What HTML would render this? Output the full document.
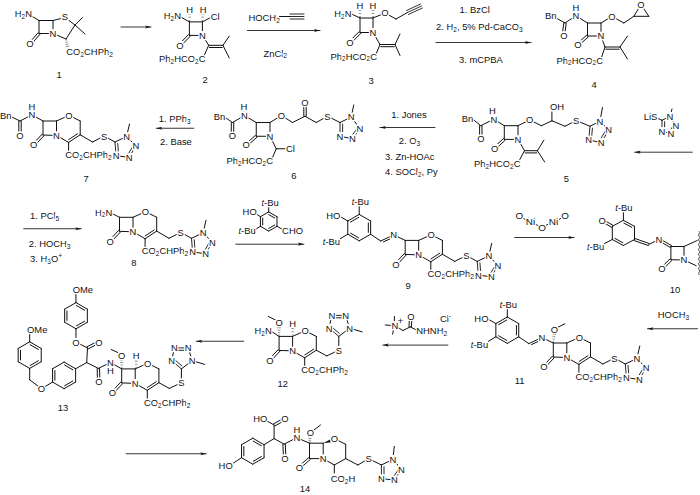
<!DOCTYPE html>
<html><head><meta charset="utf-8"><style>
html,body{margin:0;padding:0;background:#fff;width:700px;height:495px;overflow:hidden}
svg{display:block}
text{font-family:"Liberation Sans",sans-serif;font-size:9.9px;fill:#111}
text.a,text.t{stroke:#fff;stroke-width:2.6px;paint-order:stroke fill;stroke-linejoin:round}
line,path{stroke:#111;stroke-linecap:round}
</style></head><body>
<svg width="700" height="495" viewBox="0 0 700 495">
<rect width="700" height="495" fill="#fff"/>
<g>
<line x1="31.50" y1="16.00" x2="39.00" y2="20.50" stroke-width="1.0"/>
<line x1="39.00" y1="20.50" x2="53.00" y2="20.50" stroke-width="1.0"/>
<line x1="53.00" y1="20.50" x2="53.00" y2="33.50" stroke-width="1.0"/>
<line x1="53.00" y1="33.50" x2="39.00" y2="33.50" stroke-width="1.0"/>
<line x1="39.00" y1="33.50" x2="39.00" y2="20.50" stroke-width="1.0"/>
<line x1="38.09" y1="32.72" x2="29.09" y2="43.22" stroke-width="1.0"/>
<line x1="39.91" y1="34.28" x2="30.91" y2="44.78" stroke-width="1.0"/>
<line x1="53.00" y1="20.50" x2="65.00" y2="17.50" stroke-width="1.0"/>
<line x1="65.00" y1="17.50" x2="75.00" y2="25.00" stroke-width="1.0"/>
<line x1="75.00" y1="25.00" x2="82.50" y2="17.50" stroke-width="1.0"/>
<line x1="75.00" y1="25.00" x2="85.00" y2="34.00" stroke-width="1.0"/>
<line x1="75.00" y1="25.00" x2="66.00" y2="39.00" stroke-width="1.0"/>
<line x1="66.00" y1="39.00" x2="53.00" y2="33.50" stroke-width="1.0"/>
<line x1="66.64" y1="39.98" x2="65.74" y2="40.14" stroke-width="0.6" style="stroke:#444"/>
<line x1="67.32" y1="42.05" x2="65.81" y2="42.32" stroke-width="0.6" style="stroke:#444"/>
<line x1="68.00" y1="44.12" x2="65.87" y2="44.50" stroke-width="0.6" style="stroke:#444"/>
<line x1="68.69" y1="46.20" x2="65.94" y2="46.68" stroke-width="0.6" style="stroke:#444"/>
<line x1="121.00" y1="27.00" x2="151.00" y2="27.00" stroke-width="0.85"/>
<polygon points="151.00,27.00 145.00,25.40 146.50,27.00 145.00,28.60" fill="#111" stroke="none"/>
<line x1="180.00" y1="16.50" x2="189.40" y2="21.90" stroke-width="1.0"/>
<line x1="189.40" y1="21.90" x2="202.40" y2="21.90" stroke-width="1.0"/>
<line x1="202.40" y1="21.90" x2="202.40" y2="35.40" stroke-width="1.0"/>
<line x1="202.40" y1="35.40" x2="189.40" y2="35.40" stroke-width="1.0"/>
<line x1="189.40" y1="35.40" x2="189.40" y2="21.90" stroke-width="1.0"/>
<line x1="188.95" y1="20.32" x2="189.92" y2="20.34" stroke-width="0.6" style="stroke:#444"/>
<line x1="188.65" y1="17.18" x2="190.35" y2="17.22" stroke-width="0.6" style="stroke:#444"/>
<line x1="188.35" y1="14.04" x2="190.78" y2="14.09" stroke-width="0.6" style="stroke:#444"/>
<line x1="202.02" y1="20.30" x2="202.98" y2="20.36" stroke-width="0.6" style="stroke:#444"/>
<line x1="201.85" y1="17.15" x2="203.55" y2="17.25" stroke-width="0.6" style="stroke:#444"/>
<line x1="201.69" y1="13.99" x2="204.11" y2="14.14" stroke-width="0.6" style="stroke:#444"/>
<line x1="202.40" y1="21.90" x2="211.00" y2="17.30" stroke-width="1.0"/>
<line x1="188.54" y1="34.56" x2="178.94" y2="44.46" stroke-width="1.0"/>
<line x1="190.26" y1="36.24" x2="180.66" y2="46.14" stroke-width="1.0"/>
<line x1="202.40" y1="35.40" x2="208.70" y2="45.30" stroke-width="1.0"/>
<line x1="208.70" y1="45.30" x2="222.90" y2="45.30" stroke-width="1.0"/>
<line x1="209.41" y1="47.50" x2="222.19" y2="47.50" stroke-width="1.0"/>
<line x1="222.90" y1="45.30" x2="229.30" y2="36.10" stroke-width="1.0"/>
<line x1="222.90" y1="45.30" x2="229.30" y2="58.00" stroke-width="1.0"/>
<line x1="208.70" y1="45.30" x2="204.00" y2="56.00" stroke-width="1.0"/>
<line x1="247.50" y1="30.50" x2="320.00" y2="30.50" stroke-width="0.85"/>
<polygon points="320.00,30.50 314.00,28.90 315.50,30.50 314.00,32.10" fill="#111" stroke="none"/>
<line x1="279.50" y1="16.50" x2="290.00" y2="16.50" stroke-width="1.0"/>
<line x1="290.00" y1="19.00" x2="304.00" y2="19.00" stroke-width="0.9"/>
<line x1="290.00" y1="14.00" x2="304.00" y2="14.00" stroke-width="0.9"/>
<line x1="290.00" y1="16.50" x2="304.00" y2="16.50" stroke-width="0.9"/>
<line x1="351.50" y1="14.00" x2="360.00" y2="18.00" stroke-width="1.0"/>
<line x1="360.00" y1="18.00" x2="373.00" y2="18.00" stroke-width="1.0"/>
<line x1="373.00" y1="18.00" x2="373.00" y2="32.50" stroke-width="1.0"/>
<line x1="373.00" y1="32.50" x2="360.00" y2="32.50" stroke-width="1.0"/>
<line x1="360.00" y1="32.50" x2="360.00" y2="18.00" stroke-width="1.0"/>
<line x1="359.52" y1="16.50" x2="360.48" y2="16.50" stroke-width="0.6" style="stroke:#444"/>
<line x1="359.15" y1="13.50" x2="360.85" y2="13.50" stroke-width="0.6" style="stroke:#444"/>
<line x1="358.78" y1="10.50" x2="361.22" y2="10.50" stroke-width="0.6" style="stroke:#444"/>
<line x1="372.52" y1="16.50" x2="373.48" y2="16.50" stroke-width="0.6" style="stroke:#444"/>
<line x1="372.15" y1="13.50" x2="373.85" y2="13.50" stroke-width="0.6" style="stroke:#444"/>
<line x1="371.78" y1="10.50" x2="374.22" y2="10.50" stroke-width="0.6" style="stroke:#444"/>
<line x1="373.00" y1="18.00" x2="385.00" y2="13.00" stroke-width="1.0"/>
<line x1="385.00" y1="13.00" x2="396.00" y2="19.00" stroke-width="1.0"/>
<line x1="396.00" y1="19.00" x2="407.50" y2="12.50" stroke-width="1.0"/>
<line x1="408.43" y1="14.50" x2="422.43" y2="8.00" stroke-width="0.85"/>
<line x1="406.57" y1="10.50" x2="420.57" y2="4.00" stroke-width="0.85"/>
<line x1="407.50" y1="12.50" x2="421.50" y2="6.00" stroke-width="0.85"/>
<line x1="359.15" y1="31.65" x2="349.15" y2="41.65" stroke-width="1.0"/>
<line x1="360.85" y1="33.35" x2="350.85" y2="43.35" stroke-width="1.0"/>
<line x1="373.00" y1="32.50" x2="380.00" y2="44.50" stroke-width="1.0"/>
<line x1="380.00" y1="44.50" x2="395.00" y2="44.50" stroke-width="1.0"/>
<line x1="380.75" y1="46.70" x2="394.25" y2="46.70" stroke-width="1.0"/>
<line x1="395.00" y1="44.50" x2="400.00" y2="34.00" stroke-width="1.0"/>
<line x1="395.00" y1="44.50" x2="400.00" y2="55.50" stroke-width="1.0"/>
<line x1="380.00" y1="44.50" x2="375.50" y2="55.50" stroke-width="1.0"/>
<line x1="436.00" y1="42.50" x2="531.00" y2="42.50" stroke-width="0.85"/>
<polygon points="531.00,42.50 525.00,40.90 526.50,42.50 525.00,44.10" fill="#111" stroke="none"/>
<line x1="557.00" y1="18.50" x2="565.00" y2="23.00" stroke-width="1.0"/>
<line x1="565.00" y1="23.00" x2="576.00" y2="15.80" stroke-width="1.0"/>
<line x1="563.81" y1="22.84" x2="562.61" y2="31.84" stroke-width="1.0"/>
<line x1="566.19" y1="23.16" x2="564.99" y2="32.16" stroke-width="1.0"/>
<line x1="576.00" y1="15.80" x2="587.50" y2="23.00" stroke-width="1.0"/>
<line x1="587.50" y1="23.00" x2="601.00" y2="23.00" stroke-width="1.0"/>
<line x1="601.00" y1="23.00" x2="601.00" y2="36.00" stroke-width="1.0"/>
<line x1="601.00" y1="36.00" x2="587.50" y2="36.00" stroke-width="1.0"/>
<line x1="587.50" y1="36.00" x2="587.50" y2="23.00" stroke-width="1.0"/>
<line x1="586.70" y1="35.11" x2="577.20" y2="43.61" stroke-width="1.0"/>
<line x1="588.30" y1="36.89" x2="578.80" y2="45.39" stroke-width="1.0"/>
<line x1="601.00" y1="23.00" x2="612.00" y2="16.30" stroke-width="1.0"/>
<line x1="612.00" y1="16.30" x2="623.80" y2="23.00" stroke-width="1.0"/>
<line x1="623.80" y1="23.00" x2="633.80" y2="16.30" stroke-width="1.0"/>
<line x1="633.80" y1="16.30" x2="648.80" y2="16.30" stroke-width="1.0"/>
<line x1="633.80" y1="16.30" x2="641.00" y2="4.50" stroke-width="1.0"/>
<line x1="648.80" y1="16.30" x2="641.00" y2="4.50" stroke-width="1.0"/>
<line x1="601.00" y1="36.00" x2="605.00" y2="47.00" stroke-width="1.0"/>
<line x1="605.00" y1="47.00" x2="620.00" y2="47.00" stroke-width="1.0"/>
<line x1="605.75" y1="49.20" x2="619.25" y2="49.20" stroke-width="1.0"/>
<line x1="620.00" y1="47.00" x2="627.50" y2="36.00" stroke-width="1.0"/>
<line x1="620.00" y1="47.00" x2="627.50" y2="59.00" stroke-width="1.0"/>
<line x1="605.00" y1="47.00" x2="601.00" y2="59.00" stroke-width="1.0"/>
<line x1="11.80" y1="117.00" x2="20.00" y2="121.00" stroke-width="1.0"/>
<line x1="20.00" y1="121.00" x2="32.00" y2="114.80" stroke-width="1.0"/>
<line x1="18.80" y1="121.00" x2="18.80" y2="133.00" stroke-width="1.0"/>
<line x1="21.20" y1="121.00" x2="21.20" y2="133.00" stroke-width="1.0"/>
<line x1="32.00" y1="114.80" x2="43.00" y2="121.00" stroke-width="1.0"/>
<line x1="43.00" y1="121.00" x2="56.50" y2="121.00" stroke-width="1.0"/>
<line x1="56.50" y1="121.00" x2="56.50" y2="135.50" stroke-width="1.0"/>
<line x1="56.50" y1="135.50" x2="43.00" y2="135.00" stroke-width="1.0"/>
<line x1="43.00" y1="135.00" x2="43.00" y2="121.00" stroke-width="1.0"/>
<line x1="42.13" y1="134.18" x2="34.33" y2="142.48" stroke-width="1.0"/>
<line x1="43.87" y1="135.82" x2="36.07" y2="144.12" stroke-width="1.0"/>
<line x1="56.50" y1="121.00" x2="69.00" y2="115.40" stroke-width="1.0"/>
<line x1="69.00" y1="115.40" x2="80.20" y2="121.00" stroke-width="1.0"/>
<line x1="80.20" y1="121.00" x2="80.20" y2="134.80" stroke-width="1.0"/>
<line x1="80.20" y1="134.80" x2="68.60" y2="142.40" stroke-width="1.0"/>
<line x1="77.55" y1="133.79" x2="68.73" y2="139.56" stroke-width="1.0"/>
<line x1="68.60" y1="142.40" x2="56.50" y2="135.50" stroke-width="1.0"/>
<line x1="68.60" y1="142.40" x2="68.60" y2="150.50" stroke-width="1.0"/>
<line x1="80.20" y1="134.80" x2="92.50" y2="142.00" stroke-width="1.0"/>
<line x1="92.50" y1="142.00" x2="104.20" y2="136.10" stroke-width="1.0"/>
<line x1="104.20" y1="136.10" x2="115.00" y2="142.00" stroke-width="1.0"/>
<line x1="115.00" y1="142.00" x2="126.60" y2="136.50" stroke-width="1.0"/>
<line x1="126.60" y1="136.50" x2="135.80" y2="146.00" stroke-width="1.0"/>
<line x1="129.10" y1="157.40" x2="116.10" y2="155.70" stroke-width="1.0"/>
<line x1="115.00" y1="142.00" x2="116.10" y2="155.70" stroke-width="0.9"/>
<line x1="117.72" y1="143.44" x2="118.56" y2="153.85" stroke-width="0.9"/>
<line x1="135.80" y1="146.00" x2="129.10" y2="157.40" stroke-width="0.9"/>
<line x1="132.73" y1="146.49" x2="128.04" y2="154.47" stroke-width="0.9"/>
<line x1="126.60" y1="136.50" x2="129.50" y2="124.00" stroke-width="1.0"/>
<line x1="193.75" y1="128.25" x2="156.25" y2="128.25" stroke-width="0.85"/>
<polygon points="156.25,128.25 162.25,126.65 160.75,128.25 162.25,129.85" fill="#111" stroke="none"/>
<line x1="225.25" y1="117.50" x2="232.50" y2="122.50" stroke-width="1.0"/>
<line x1="232.50" y1="122.50" x2="244.40" y2="115.60" stroke-width="1.0"/>
<line x1="231.30" y1="122.50" x2="231.30" y2="134.00" stroke-width="1.0"/>
<line x1="233.70" y1="122.50" x2="233.70" y2="134.00" stroke-width="1.0"/>
<line x1="244.40" y1="112.60" x2="243.90" y2="110.00" stroke-width="1.0"/>
<line x1="244.40" y1="115.60" x2="256.25" y2="122.50" stroke-width="1.0"/>
<line x1="256.25" y1="122.50" x2="270.00" y2="122.50" stroke-width="1.0"/>
<line x1="270.00" y1="122.50" x2="270.00" y2="136.25" stroke-width="1.0"/>
<line x1="270.00" y1="136.25" x2="256.25" y2="136.25" stroke-width="1.0"/>
<line x1="256.25" y1="136.25" x2="256.25" y2="122.50" stroke-width="1.0"/>
<line x1="255.46" y1="135.35" x2="245.46" y2="144.10" stroke-width="1.0"/>
<line x1="257.04" y1="137.15" x2="247.04" y2="145.90" stroke-width="1.0"/>
<line x1="270.00" y1="122.50" x2="281.50" y2="115.50" stroke-width="1.0"/>
<line x1="281.50" y1="115.50" x2="292.50" y2="122.50" stroke-width="1.0"/>
<line x1="292.50" y1="122.50" x2="305.00" y2="116.25" stroke-width="1.0"/>
<line x1="306.20" y1="116.25" x2="306.20" y2="105.00" stroke-width="1.0"/>
<line x1="303.80" y1="116.25" x2="303.80" y2="105.00" stroke-width="1.0"/>
<line x1="305.00" y1="116.25" x2="316.25" y2="122.50" stroke-width="1.0"/>
<line x1="316.25" y1="122.50" x2="327.50" y2="116.25" stroke-width="1.0"/>
<line x1="327.50" y1="116.25" x2="340.00" y2="122.50" stroke-width="1.0"/>
<line x1="340.00" y1="122.50" x2="351.25" y2="117.00" stroke-width="1.0"/>
<line x1="351.25" y1="117.00" x2="360.00" y2="128.75" stroke-width="1.0"/>
<line x1="352.50" y1="138.75" x2="340.00" y2="136.25" stroke-width="1.0"/>
<line x1="340.00" y1="122.50" x2="340.00" y2="136.25" stroke-width="0.9"/>
<line x1="342.60" y1="124.15" x2="342.60" y2="134.60" stroke-width="0.9"/>
<line x1="360.00" y1="128.75" x2="352.50" y2="138.75" stroke-width="0.9"/>
<line x1="356.95" y1="128.81" x2="351.70" y2="135.81" stroke-width="0.9"/>
<line x1="351.25" y1="117.00" x2="353.75" y2="105.00" stroke-width="1.0"/>
<line x1="270.00" y1="136.25" x2="276.25" y2="148.75" stroke-width="1.0"/>
<line x1="276.25" y1="148.75" x2="286.00" y2="148.75" stroke-width="1.0"/>
<line x1="276.25" y1="148.75" x2="271.50" y2="160.00" stroke-width="1.0"/>
<line x1="435.00" y1="127.50" x2="380.00" y2="127.50" stroke-width="0.85"/>
<polygon points="380.00,127.50 386.00,125.90 384.50,127.50 386.00,129.10" fill="#111" stroke="none"/>
<line x1="473.30" y1="119.60" x2="480.80" y2="125.70" stroke-width="1.0"/>
<line x1="480.80" y1="125.70" x2="493.80" y2="119.20" stroke-width="1.0"/>
<line x1="479.60" y1="125.70" x2="479.60" y2="136.90" stroke-width="1.0"/>
<line x1="482.00" y1="125.70" x2="482.00" y2="136.90" stroke-width="1.0"/>
<line x1="493.80" y1="116.20" x2="492.50" y2="113.50" stroke-width="1.0"/>
<line x1="493.80" y1="119.20" x2="504.30" y2="125.70" stroke-width="1.0"/>
<line x1="504.30" y1="125.70" x2="518.00" y2="125.70" stroke-width="1.0"/>
<line x1="518.00" y1="125.70" x2="518.00" y2="139.40" stroke-width="1.0"/>
<line x1="518.00" y1="139.40" x2="504.30" y2="139.40" stroke-width="1.0"/>
<line x1="504.30" y1="139.40" x2="504.30" y2="125.70" stroke-width="1.0"/>
<line x1="503.49" y1="138.52" x2="493.79" y2="147.42" stroke-width="1.0"/>
<line x1="505.11" y1="140.28" x2="495.41" y2="149.18" stroke-width="1.0"/>
<line x1="518.00" y1="125.70" x2="529.60" y2="120.00" stroke-width="1.0"/>
<line x1="529.60" y1="120.00" x2="541.40" y2="125.70" stroke-width="1.0"/>
<line x1="541.40" y1="125.70" x2="551.90" y2="120.80" stroke-width="1.0"/>
<line x1="551.90" y1="120.80" x2="565.00" y2="126.25" stroke-width="1.0"/>
<line x1="565.00" y1="126.25" x2="576.25" y2="120.50" stroke-width="1.0"/>
<line x1="551.90" y1="120.80" x2="551.90" y2="112.00" stroke-width="1.0"/>
<line x1="576.25" y1="120.50" x2="590.00" y2="126.25" stroke-width="1.0"/>
<line x1="590.00" y1="126.25" x2="600.00" y2="121.25" stroke-width="1.0"/>
<line x1="600.00" y1="121.25" x2="608.75" y2="130.00" stroke-width="1.0"/>
<line x1="601.25" y1="142.50" x2="588.75" y2="140.00" stroke-width="1.0"/>
<line x1="590.00" y1="126.25" x2="588.75" y2="140.00" stroke-width="0.9"/>
<line x1="592.44" y1="128.14" x2="591.49" y2="138.59" stroke-width="0.9"/>
<line x1="608.75" y1="130.00" x2="601.25" y2="142.50" stroke-width="0.9"/>
<line x1="605.57" y1="130.64" x2="600.32" y2="139.39" stroke-width="0.9"/>
<line x1="600.00" y1="121.25" x2="602.50" y2="107.50" stroke-width="1.0"/>
<line x1="518.00" y1="139.40" x2="524.50" y2="150.70" stroke-width="1.0"/>
<line x1="524.50" y1="150.70" x2="537.40" y2="150.70" stroke-width="1.0"/>
<line x1="525.14" y1="152.90" x2="536.75" y2="152.90" stroke-width="1.0"/>
<line x1="537.40" y1="150.70" x2="543.90" y2="140.20" stroke-width="1.0"/>
<line x1="537.40" y1="150.70" x2="544.70" y2="162.00" stroke-width="1.0"/>
<line x1="524.50" y1="150.70" x2="519.80" y2="159.50" stroke-width="1.0"/>
<line x1="657.00" y1="118.00" x2="662.00" y2="120.30" stroke-width="1.0"/>
<line x1="662.00" y1="120.30" x2="670.00" y2="116.30" stroke-width="1.0"/>
<line x1="670.00" y1="116.30" x2="676.00" y2="126.00" stroke-width="1.0"/>
<line x1="671.00" y1="133.40" x2="662.00" y2="131.40" stroke-width="1.0"/>
<line x1="662.00" y1="120.30" x2="662.00" y2="131.40" stroke-width="0.9"/>
<line x1="664.60" y1="121.63" x2="664.60" y2="130.07" stroke-width="0.9"/>
<line x1="676.00" y1="126.00" x2="671.00" y2="133.40" stroke-width="0.9"/>
<line x1="673.26" y1="125.77" x2="669.76" y2="130.95" stroke-width="0.9"/>
<line x1="670.00" y1="116.30" x2="672.00" y2="109.00" stroke-width="1.0"/>
<line x1="692.30" y1="152.20" x2="634.70" y2="152.20" stroke-width="0.85"/>
<polygon points="634.70,152.20 640.70,150.60 639.20,152.20 640.70,153.80" fill="#111" stroke="none"/>
<line x1="112.00" y1="213.50" x2="119.50" y2="217.30" stroke-width="1.0"/>
<line x1="119.50" y1="217.30" x2="133.00" y2="217.30" stroke-width="1.0"/>
<line x1="133.00" y1="217.30" x2="133.00" y2="231.80" stroke-width="1.0"/>
<line x1="133.00" y1="231.80" x2="119.50" y2="231.30" stroke-width="1.0"/>
<line x1="119.50" y1="231.30" x2="119.50" y2="217.30" stroke-width="1.0"/>
<line x1="118.63" y1="230.48" x2="110.83" y2="238.78" stroke-width="1.0"/>
<line x1="120.37" y1="232.12" x2="112.57" y2="240.42" stroke-width="1.0"/>
<line x1="133.00" y1="217.30" x2="145.50" y2="211.70" stroke-width="1.0"/>
<line x1="145.50" y1="211.70" x2="156.70" y2="217.30" stroke-width="1.0"/>
<line x1="156.70" y1="217.30" x2="156.70" y2="231.10" stroke-width="1.0"/>
<line x1="156.70" y1="231.10" x2="145.10" y2="238.70" stroke-width="1.0"/>
<line x1="154.05" y1="230.09" x2="145.23" y2="235.86" stroke-width="1.0"/>
<line x1="145.10" y1="238.70" x2="133.00" y2="231.80" stroke-width="1.0"/>
<line x1="145.10" y1="238.70" x2="145.10" y2="246.80" stroke-width="1.0"/>
<line x1="156.70" y1="231.10" x2="169.00" y2="238.30" stroke-width="1.0"/>
<line x1="169.00" y1="238.30" x2="180.70" y2="232.40" stroke-width="1.0"/>
<line x1="180.70" y1="232.40" x2="191.50" y2="238.30" stroke-width="1.0"/>
<line x1="191.50" y1="238.30" x2="203.10" y2="232.80" stroke-width="1.0"/>
<line x1="203.10" y1="232.80" x2="212.30" y2="242.30" stroke-width="1.0"/>
<line x1="205.60" y1="253.70" x2="192.60" y2="252.00" stroke-width="1.0"/>
<line x1="191.50" y1="238.30" x2="192.60" y2="252.00" stroke-width="0.9"/>
<line x1="194.22" y1="239.74" x2="195.06" y2="250.15" stroke-width="0.9"/>
<line x1="212.30" y1="242.30" x2="205.60" y2="253.70" stroke-width="0.9"/>
<line x1="209.23" y1="242.79" x2="204.54" y2="250.77" stroke-width="0.9"/>
<line x1="203.10" y1="232.80" x2="206.00" y2="220.30" stroke-width="1.0"/>
<line x1="23.75" y1="228.75" x2="81.25" y2="228.75" stroke-width="0.85"/>
<polygon points="81.25,228.75 75.25,227.15 76.75,228.75 75.25,230.35" fill="#111" stroke="none"/>
<line x1="268.70" y1="211.90" x2="277.01" y2="216.70" stroke-width="1.0"/>
<line x1="268.71" y1="214.56" x2="274.70" y2="218.02" stroke-width="1.0"/>
<line x1="277.01" y1="216.70" x2="277.01" y2="226.30" stroke-width="1.0"/>
<line x1="277.01" y1="226.30" x2="268.70" y2="231.10" stroke-width="1.0"/>
<line x1="274.70" y1="224.98" x2="268.71" y2="228.44" stroke-width="1.0"/>
<line x1="268.70" y1="231.10" x2="260.39" y2="226.30" stroke-width="1.0"/>
<line x1="260.39" y1="226.30" x2="260.39" y2="216.70" stroke-width="1.0"/>
<line x1="262.69" y1="224.96" x2="262.69" y2="218.04" stroke-width="1.0"/>
<line x1="260.39" y1="216.70" x2="268.70" y2="211.90" stroke-width="1.0"/>
<line x1="268.70" y1="211.90" x2="268.70" y2="206.40" stroke-width="1.0"/>
<line x1="260.39" y1="216.70" x2="255.80" y2="213.60" stroke-width="1.0"/>
<line x1="260.39" y1="226.30" x2="255.60" y2="229.30" stroke-width="1.0"/>
<line x1="277.01" y1="226.30" x2="282.30" y2="229.30" stroke-width="1.0"/>
<line x1="235.90" y1="244.20" x2="303.90" y2="244.20" stroke-width="0.85"/>
<polygon points="303.90,244.20 297.90,242.60 299.40,244.20 297.90,245.80" fill="#111" stroke="none"/>
<line x1="405.20" y1="240.40" x2="418.70" y2="240.40" stroke-width="1.0"/>
<line x1="418.70" y1="240.40" x2="418.70" y2="254.90" stroke-width="1.0"/>
<line x1="418.70" y1="254.90" x2="405.20" y2="254.40" stroke-width="1.0"/>
<line x1="405.20" y1="254.40" x2="405.20" y2="240.40" stroke-width="1.0"/>
<line x1="404.33" y1="253.58" x2="396.53" y2="261.88" stroke-width="1.0"/>
<line x1="406.07" y1="255.22" x2="398.27" y2="263.52" stroke-width="1.0"/>
<line x1="418.70" y1="240.40" x2="431.20" y2="234.80" stroke-width="1.0"/>
<line x1="431.20" y1="234.80" x2="442.40" y2="240.40" stroke-width="1.0"/>
<line x1="442.40" y1="240.40" x2="442.40" y2="254.20" stroke-width="1.0"/>
<line x1="442.40" y1="254.20" x2="430.80" y2="261.80" stroke-width="1.0"/>
<line x1="439.75" y1="253.19" x2="430.93" y2="258.96" stroke-width="1.0"/>
<line x1="430.80" y1="261.80" x2="418.70" y2="254.90" stroke-width="1.0"/>
<line x1="430.80" y1="261.80" x2="430.80" y2="269.90" stroke-width="1.0"/>
<line x1="442.40" y1="254.20" x2="454.70" y2="261.40" stroke-width="1.0"/>
<line x1="454.70" y1="261.40" x2="466.40" y2="255.50" stroke-width="1.0"/>
<line x1="466.40" y1="255.50" x2="477.20" y2="261.40" stroke-width="1.0"/>
<line x1="477.20" y1="261.40" x2="488.80" y2="255.90" stroke-width="1.0"/>
<line x1="488.80" y1="255.90" x2="498.00" y2="265.40" stroke-width="1.0"/>
<line x1="491.30" y1="276.80" x2="478.30" y2="275.10" stroke-width="1.0"/>
<line x1="477.20" y1="261.40" x2="478.30" y2="275.10" stroke-width="0.9"/>
<line x1="479.92" y1="262.84" x2="480.76" y2="273.25" stroke-width="0.9"/>
<line x1="498.00" y1="265.40" x2="491.30" y2="276.80" stroke-width="0.9"/>
<line x1="494.93" y1="265.89" x2="490.24" y2="273.87" stroke-width="0.9"/>
<line x1="488.80" y1="255.90" x2="491.70" y2="243.40" stroke-width="1.0"/>
<line x1="359.20" y1="214.40" x2="370.63" y2="221.00" stroke-width="1.0"/>
<line x1="370.63" y1="221.00" x2="370.63" y2="234.20" stroke-width="1.0"/>
<line x1="368.33" y1="222.85" x2="368.33" y2="232.35" stroke-width="1.0"/>
<line x1="370.63" y1="234.20" x2="359.20" y2="240.80" stroke-width="1.0"/>
<line x1="359.20" y1="240.80" x2="347.77" y2="234.20" stroke-width="1.0"/>
<line x1="358.75" y1="237.88" x2="350.52" y2="233.13" stroke-width="1.0"/>
<line x1="347.77" y1="234.20" x2="347.77" y2="221.00" stroke-width="1.0"/>
<line x1="347.77" y1="221.00" x2="359.20" y2="214.40" stroke-width="1.0"/>
<line x1="350.52" y1="222.07" x2="358.75" y2="217.32" stroke-width="1.0"/>
<line x1="359.20" y1="214.40" x2="359.20" y2="206.40" stroke-width="1.0"/>
<line x1="347.77" y1="221.00" x2="341.27" y2="217.20" stroke-width="1.0"/>
<line x1="347.77" y1="234.20" x2="340.27" y2="238.70" stroke-width="1.0"/>
<line x1="370.63" y1="234.20" x2="380.70" y2="241.00" stroke-width="1.0"/>
<line x1="380.70" y1="241.00" x2="393.70" y2="234.90" stroke-width="1.0"/>
<line x1="383.50" y1="241.90" x2="392.60" y2="237.63" stroke-width="1.0"/>
<line x1="393.70" y1="234.90" x2="405.20" y2="240.40" stroke-width="1.0"/>
<line x1="523.50" y1="218.50" x2="525.50" y2="219.50" stroke-width="1.0"/>
<line x1="536.00" y1="224.50" x2="538.20" y2="225.70" stroke-width="1.0"/>
<line x1="546.00" y1="225.50" x2="548.00" y2="224.20" stroke-width="1.0"/>
<line x1="559.00" y1="219.50" x2="561.00" y2="218.30" stroke-width="1.0"/>
<line x1="514.70" y1="237.50" x2="574.10" y2="237.50" stroke-width="0.85"/>
<polygon points="574.10,237.50 568.10,235.90 569.60,237.50 568.10,239.10" fill="#111" stroke="none"/>
<line x1="612.30" y1="226.30" x2="623.40" y2="220.30" stroke-width="1.0"/>
<line x1="623.40" y1="220.30" x2="634.50" y2="226.30" stroke-width="1.0"/>
<line x1="623.91" y1="223.08" x2="631.90" y2="227.40" stroke-width="1.0"/>
<line x1="634.50" y1="226.30" x2="634.50" y2="239.50" stroke-width="1.0"/>
<line x1="634.50" y1="239.50" x2="623.40" y2="245.50" stroke-width="1.0"/>
<line x1="623.40" y1="245.50" x2="612.30" y2="239.50" stroke-width="1.0"/>
<line x1="622.89" y1="242.72" x2="614.90" y2="238.40" stroke-width="1.0"/>
<line x1="612.30" y1="239.50" x2="612.30" y2="226.30" stroke-width="1.0"/>
<line x1="612.90" y1="225.26" x2="605.10" y2="220.76" stroke-width="1.0"/>
<line x1="611.70" y1="227.34" x2="603.90" y2="222.84" stroke-width="1.0"/>
<line x1="623.40" y1="220.30" x2="623.40" y2="212.00" stroke-width="1.0"/>
<line x1="612.30" y1="239.50" x2="604.50" y2="243.50" stroke-width="1.0"/>
<line x1="634.13" y1="240.54" x2="648.33" y2="245.54" stroke-width="1.0"/>
<line x1="634.87" y1="238.46" x2="649.07" y2="243.46" stroke-width="1.0"/>
<line x1="648.70" y1="244.50" x2="658.80" y2="239.50" stroke-width="1.0"/>
<line x1="658.25" y1="240.45" x2="670.35" y2="247.45" stroke-width="1.0"/>
<line x1="659.35" y1="238.55" x2="671.45" y2="245.55" stroke-width="1.0"/>
<line x1="670.90" y1="246.50" x2="684.00" y2="246.50" stroke-width="1.0"/>
<line x1="684.00" y1="246.50" x2="684.00" y2="260.00" stroke-width="1.0"/>
<line x1="684.00" y1="260.00" x2="670.90" y2="259.70" stroke-width="1.0"/>
<line x1="670.90" y1="259.70" x2="670.90" y2="246.50" stroke-width="1.0"/>
<line x1="670.06" y1="258.85" x2="662.66" y2="266.15" stroke-width="1.0"/>
<line x1="671.74" y1="260.55" x2="664.34" y2="267.85" stroke-width="1.0"/>
<line x1="684.00" y1="246.50" x2="697.20" y2="240.50" stroke-width="1.0"/>
<line x1="684.00" y1="260.00" x2="696.20" y2="265.70" stroke-width="1.0"/>
<path d="M699.2,231.5 q1.6,1.2 0,2.4 q-1.6,1.2 0,2.4 q1.6,1.2 0,2.4 q-1.6,1.2 0,2.4 q1.6,1.2 0,2.4 q-1.6,1.2 0,2.4 q1.6,1.2 0,2.4 q-1.6,1.2 0,2.4 q1.6,1.2 0,2.4 q-1.6,1.2 0,2.4 q1.6,1.2 0,2.4 q-1.6,1.2 0,2.4 q1.6,1.2 0,2.4 q-1.6,1.2 0,2.4 q1.6,1.2 0,2.4 q-1.6,1.2 0,2.4 q1.6,1.2 0,2.4 q-1.6,1.2 0,2.4" fill="none" stroke-width="0.8"/>
<line x1="553.30" y1="343.00" x2="566.80" y2="343.00" stroke-width="1.0"/>
<line x1="566.80" y1="343.00" x2="566.80" y2="357.50" stroke-width="1.0"/>
<line x1="566.80" y1="357.50" x2="553.30" y2="357.00" stroke-width="1.0"/>
<line x1="553.30" y1="357.00" x2="553.30" y2="343.00" stroke-width="1.0"/>
<line x1="552.43" y1="356.18" x2="544.63" y2="364.48" stroke-width="1.0"/>
<line x1="554.17" y1="357.82" x2="546.37" y2="366.12" stroke-width="1.0"/>
<line x1="566.80" y1="343.00" x2="579.30" y2="337.40" stroke-width="1.0"/>
<line x1="579.30" y1="337.40" x2="590.50" y2="343.00" stroke-width="1.0"/>
<line x1="590.50" y1="343.00" x2="590.50" y2="356.80" stroke-width="1.0"/>
<line x1="590.50" y1="356.80" x2="578.90" y2="364.40" stroke-width="1.0"/>
<line x1="587.85" y1="355.79" x2="579.03" y2="361.56" stroke-width="1.0"/>
<line x1="578.90" y1="364.40" x2="566.80" y2="357.50" stroke-width="1.0"/>
<line x1="578.90" y1="364.40" x2="578.90" y2="372.50" stroke-width="1.0"/>
<line x1="590.50" y1="356.80" x2="602.80" y2="364.00" stroke-width="1.0"/>
<line x1="602.80" y1="364.00" x2="614.50" y2="358.10" stroke-width="1.0"/>
<line x1="614.50" y1="358.10" x2="625.30" y2="364.00" stroke-width="1.0"/>
<line x1="625.30" y1="364.00" x2="636.90" y2="358.50" stroke-width="1.0"/>
<line x1="636.90" y1="358.50" x2="646.10" y2="368.00" stroke-width="1.0"/>
<line x1="639.40" y1="379.40" x2="626.40" y2="377.70" stroke-width="1.0"/>
<line x1="625.30" y1="364.00" x2="626.40" y2="377.70" stroke-width="0.9"/>
<line x1="628.02" y1="365.44" x2="628.86" y2="375.85" stroke-width="0.9"/>
<line x1="646.10" y1="368.00" x2="639.40" y2="379.40" stroke-width="0.9"/>
<line x1="643.03" y1="368.49" x2="638.34" y2="376.47" stroke-width="0.9"/>
<line x1="636.90" y1="358.50" x2="639.80" y2="346.00" stroke-width="1.0"/>
<line x1="507.30" y1="317.00" x2="518.73" y2="323.60" stroke-width="1.0"/>
<line x1="518.73" y1="323.60" x2="518.73" y2="336.80" stroke-width="1.0"/>
<line x1="516.43" y1="325.45" x2="516.43" y2="334.95" stroke-width="1.0"/>
<line x1="518.73" y1="336.80" x2="507.30" y2="343.40" stroke-width="1.0"/>
<line x1="507.30" y1="343.40" x2="495.87" y2="336.80" stroke-width="1.0"/>
<line x1="506.85" y1="340.48" x2="498.62" y2="335.73" stroke-width="1.0"/>
<line x1="495.87" y1="336.80" x2="495.87" y2="323.60" stroke-width="1.0"/>
<line x1="495.87" y1="323.60" x2="507.30" y2="317.00" stroke-width="1.0"/>
<line x1="498.62" y1="324.67" x2="506.85" y2="319.92" stroke-width="1.0"/>
<line x1="507.30" y1="317.00" x2="507.30" y2="309.00" stroke-width="1.0"/>
<line x1="495.87" y1="323.60" x2="489.37" y2="319.80" stroke-width="1.0"/>
<line x1="495.87" y1="336.80" x2="488.37" y2="341.30" stroke-width="1.0"/>
<line x1="518.73" y1="336.80" x2="528.80" y2="343.60" stroke-width="1.0"/>
<line x1="528.80" y1="343.60" x2="541.80" y2="337.50" stroke-width="1.0"/>
<line x1="531.60" y1="344.50" x2="540.70" y2="340.23" stroke-width="1.0"/>
<line x1="541.80" y1="337.50" x2="553.30" y2="343.00" stroke-width="1.0"/>
<line x1="552.98" y1="341.71" x2="553.87" y2="341.79" stroke-width="0.6" style="stroke:#444"/>
<line x1="552.93" y1="339.18" x2="554.42" y2="339.32" stroke-width="0.6" style="stroke:#444"/>
<line x1="552.88" y1="336.65" x2="554.97" y2="336.85" stroke-width="0.6" style="stroke:#444"/>
<line x1="552.83" y1="334.12" x2="555.52" y2="334.38" stroke-width="0.6" style="stroke:#444"/>
<line x1="557.50" y1="327.50" x2="564.80" y2="323.80" stroke-width="1.0"/>
<line x1="697.50" y1="328.75" x2="647.50" y2="328.75" stroke-width="0.85"/>
<polygon points="647.50,328.75 653.50,327.15 652.00,328.75 653.50,330.35" fill="#111" stroke="none"/>
<line x1="279.10" y1="336.40" x2="292.60" y2="336.40" stroke-width="1.0"/>
<line x1="292.60" y1="336.40" x2="292.60" y2="350.90" stroke-width="1.0"/>
<line x1="292.60" y1="350.90" x2="279.10" y2="350.40" stroke-width="1.0"/>
<line x1="279.10" y1="350.40" x2="279.10" y2="336.40" stroke-width="1.0"/>
<line x1="278.23" y1="349.58" x2="270.43" y2="357.88" stroke-width="1.0"/>
<line x1="279.97" y1="351.22" x2="272.17" y2="359.52" stroke-width="1.0"/>
<line x1="292.60" y1="336.40" x2="305.10" y2="330.80" stroke-width="1.0"/>
<line x1="305.10" y1="330.80" x2="316.30" y2="336.40" stroke-width="1.0"/>
<line x1="316.30" y1="336.40" x2="316.30" y2="350.20" stroke-width="1.0"/>
<line x1="316.30" y1="350.20" x2="304.70" y2="357.80" stroke-width="1.0"/>
<line x1="313.65" y1="349.19" x2="304.83" y2="354.96" stroke-width="1.0"/>
<line x1="304.70" y1="357.80" x2="292.60" y2="350.90" stroke-width="1.0"/>
<line x1="304.70" y1="357.80" x2="304.70" y2="365.90" stroke-width="1.0"/>
<line x1="316.30" y1="350.20" x2="326.70" y2="355.90" stroke-width="1.0"/>
<line x1="326.70" y1="355.90" x2="338.80" y2="350.20" stroke-width="1.0"/>
<line x1="338.80" y1="350.20" x2="338.80" y2="336.40" stroke-width="1.0"/>
<line x1="338.80" y1="336.40" x2="349.60" y2="328.10" stroke-width="1.0"/>
<line x1="349.60" y1="328.10" x2="345.60" y2="315.40" stroke-width="1.0"/>
<line x1="331.80" y1="315.40" x2="329.10" y2="328.10" stroke-width="1.0"/>
<line x1="338.80" y1="336.40" x2="329.10" y2="328.10" stroke-width="0.9"/>
<line x1="339.33" y1="333.43" x2="331.95" y2="327.12" stroke-width="0.9"/>
<line x1="331.80" y1="315.40" x2="345.60" y2="315.40" stroke-width="0.9"/>
<line x1="333.87" y1="317.80" x2="343.53" y2="317.80" stroke-width="0.9"/>
<line x1="349.60" y1="328.10" x2="362.10" y2="331.90" stroke-width="1.0"/>
<line x1="271.50" y1="331.50" x2="279.10" y2="336.40" stroke-width="1.0"/>
<line x1="278.65" y1="335.16" x2="279.55" y2="335.16" stroke-width="0.6" style="stroke:#444"/>
<line x1="278.35" y1="332.69" x2="279.85" y2="332.69" stroke-width="0.6" style="stroke:#444"/>
<line x1="278.05" y1="330.21" x2="280.15" y2="330.21" stroke-width="0.6" style="stroke:#444"/>
<line x1="277.75" y1="327.74" x2="280.45" y2="327.74" stroke-width="0.6" style="stroke:#444"/>
<line x1="275.50" y1="320.00" x2="268.20" y2="316.40" stroke-width="1.0"/>
<line x1="292.22" y1="334.83" x2="293.18" y2="334.83" stroke-width="0.6" style="stroke:#444"/>
<line x1="291.85" y1="331.70" x2="293.55" y2="331.70" stroke-width="0.6" style="stroke:#444"/>
<line x1="291.48" y1="328.57" x2="293.92" y2="328.57" stroke-width="0.6" style="stroke:#444"/>
<line x1="385.30" y1="325.00" x2="390.50" y2="325.40" stroke-width="1.0"/>
<line x1="394.40" y1="316.50" x2="394.40" y2="321.00" stroke-width="1.0"/>
<line x1="393.40" y1="330.00" x2="392.60" y2="334.10" stroke-width="1.0"/>
<line x1="395.00" y1="325.60" x2="402.90" y2="330.50" stroke-width="1.0"/>
<line x1="402.90" y1="330.50" x2="410.20" y2="326.90" stroke-width="1.0"/>
<line x1="411.40" y1="326.96" x2="411.80" y2="319.56" stroke-width="1.0"/>
<line x1="409.00" y1="326.84" x2="409.40" y2="319.44" stroke-width="1.0"/>
<line x1="410.20" y1="326.90" x2="416.50" y2="330.00" stroke-width="1.0"/>
<line x1="447.90" y1="345.10" x2="382.90" y2="345.10" stroke-width="0.85"/>
<polygon points="382.90,345.10 388.90,343.50 387.40,345.10 388.90,346.70" fill="#111" stroke="none"/>
<line x1="121.70" y1="368.90" x2="135.20" y2="368.90" stroke-width="1.0"/>
<line x1="135.20" y1="368.90" x2="135.20" y2="383.40" stroke-width="1.0"/>
<line x1="135.20" y1="383.40" x2="121.70" y2="382.90" stroke-width="1.0"/>
<line x1="121.70" y1="382.90" x2="121.70" y2="368.90" stroke-width="1.0"/>
<line x1="120.83" y1="382.08" x2="113.03" y2="390.38" stroke-width="1.0"/>
<line x1="122.57" y1="383.72" x2="114.77" y2="392.02" stroke-width="1.0"/>
<line x1="135.20" y1="368.90" x2="147.70" y2="363.30" stroke-width="1.0"/>
<line x1="147.70" y1="363.30" x2="158.90" y2="368.90" stroke-width="1.0"/>
<line x1="158.90" y1="368.90" x2="158.90" y2="382.70" stroke-width="1.0"/>
<line x1="158.90" y1="382.70" x2="147.30" y2="390.30" stroke-width="1.0"/>
<line x1="156.25" y1="381.69" x2="147.43" y2="387.46" stroke-width="1.0"/>
<line x1="147.30" y1="390.30" x2="135.20" y2="383.40" stroke-width="1.0"/>
<line x1="147.30" y1="390.30" x2="147.30" y2="398.40" stroke-width="1.0"/>
<line x1="158.90" y1="382.70" x2="169.30" y2="388.40" stroke-width="1.0"/>
<line x1="169.30" y1="388.40" x2="181.40" y2="382.70" stroke-width="1.0"/>
<line x1="181.40" y1="382.70" x2="181.40" y2="368.90" stroke-width="1.0"/>
<line x1="181.40" y1="368.90" x2="192.20" y2="360.60" stroke-width="1.0"/>
<line x1="192.20" y1="360.60" x2="188.20" y2="347.90" stroke-width="1.0"/>
<line x1="174.40" y1="347.90" x2="171.70" y2="360.60" stroke-width="1.0"/>
<line x1="181.40" y1="368.90" x2="171.70" y2="360.60" stroke-width="0.9"/>
<line x1="181.93" y1="365.93" x2="174.55" y2="359.62" stroke-width="0.9"/>
<line x1="174.40" y1="347.90" x2="188.20" y2="347.90" stroke-width="0.9"/>
<line x1="176.47" y1="350.30" x2="186.13" y2="350.30" stroke-width="0.9"/>
<line x1="192.20" y1="360.60" x2="204.70" y2="364.40" stroke-width="1.0"/>
<line x1="121.25" y1="367.62" x2="122.15" y2="367.62" stroke-width="0.6" style="stroke:#444"/>
<line x1="120.95" y1="365.07" x2="122.45" y2="365.07" stroke-width="0.6" style="stroke:#444"/>
<line x1="120.65" y1="362.52" x2="122.75" y2="362.52" stroke-width="0.6" style="stroke:#444"/>
<line x1="120.35" y1="359.97" x2="123.05" y2="359.97" stroke-width="0.6" style="stroke:#444"/>
<line x1="118.40" y1="352.80" x2="111.20" y2="349.50" stroke-width="1.0"/>
<line x1="135.72" y1="367.33" x2="136.68" y2="367.33" stroke-width="0.6" style="stroke:#444"/>
<line x1="135.35" y1="364.20" x2="137.05" y2="364.20" stroke-width="0.6" style="stroke:#444"/>
<line x1="134.98" y1="361.07" x2="137.42" y2="361.07" stroke-width="0.6" style="stroke:#444"/>
<line x1="110.30" y1="362.50" x2="121.70" y2="368.90" stroke-width="1.0"/>
<line x1="98.40" y1="368.40" x2="110.30" y2="362.50" stroke-width="1.0"/>
<line x1="97.20" y1="368.42" x2="97.40" y2="379.02" stroke-width="1.0"/>
<line x1="99.60" y1="368.38" x2="99.80" y2="378.98" stroke-width="1.0"/>
<line x1="86.70" y1="362.60" x2="98.40" y2="368.40" stroke-width="1.0"/>
<line x1="86.70" y1="362.60" x2="87.50" y2="347.90" stroke-width="1.0"/>
<line x1="88.05" y1="348.97" x2="96.55" y2="344.57" stroke-width="1.0"/>
<line x1="86.95" y1="346.83" x2="95.45" y2="342.43" stroke-width="1.0"/>
<line x1="87.50" y1="347.90" x2="75.90" y2="342.20" stroke-width="1.0"/>
<line x1="76.00" y1="302.60" x2="87.34" y2="309.15" stroke-width="1.0"/>
<line x1="76.44" y1="305.51" x2="84.61" y2="310.22" stroke-width="1.0"/>
<line x1="87.34" y1="309.15" x2="87.34" y2="322.25" stroke-width="1.0"/>
<line x1="87.34" y1="322.25" x2="76.00" y2="328.80" stroke-width="1.0"/>
<line x1="84.61" y1="321.18" x2="76.44" y2="325.89" stroke-width="1.0"/>
<line x1="76.00" y1="328.80" x2="64.66" y2="322.25" stroke-width="1.0"/>
<line x1="64.66" y1="322.25" x2="64.66" y2="309.15" stroke-width="1.0"/>
<line x1="66.96" y1="320.42" x2="66.96" y2="310.98" stroke-width="1.0"/>
<line x1="64.66" y1="309.15" x2="76.00" y2="302.60" stroke-width="1.0"/>
<line x1="76.00" y1="328.80" x2="75.90" y2="342.20" stroke-width="1.0"/>
<line x1="76.00" y1="302.60" x2="75.90" y2="294.50" stroke-width="1.0"/>
<line x1="64.10" y1="362.10" x2="75.62" y2="368.75" stroke-width="1.0"/>
<line x1="64.56" y1="365.02" x2="72.86" y2="369.81" stroke-width="1.0"/>
<line x1="75.62" y1="368.75" x2="75.62" y2="382.05" stroke-width="1.0"/>
<line x1="75.62" y1="382.05" x2="64.10" y2="388.70" stroke-width="1.0"/>
<line x1="72.86" y1="380.99" x2="64.56" y2="385.78" stroke-width="1.0"/>
<line x1="64.10" y1="388.70" x2="52.58" y2="382.05" stroke-width="1.0"/>
<line x1="52.58" y1="382.05" x2="52.58" y2="368.75" stroke-width="1.0"/>
<line x1="54.88" y1="380.19" x2="54.88" y2="370.61" stroke-width="1.0"/>
<line x1="52.58" y1="368.75" x2="64.10" y2="362.10" stroke-width="1.0"/>
<line x1="75.62" y1="368.75" x2="86.70" y2="362.60" stroke-width="1.0"/>
<line x1="52.58" y1="382.05" x2="41.50" y2="388.70" stroke-width="1.0"/>
<line x1="41.50" y1="388.70" x2="29.70" y2="379.80" stroke-width="1.0"/>
<line x1="29.70" y1="341.80" x2="41.22" y2="348.45" stroke-width="1.0"/>
<line x1="30.16" y1="344.72" x2="38.46" y2="349.51" stroke-width="1.0"/>
<line x1="41.22" y1="348.45" x2="41.22" y2="361.75" stroke-width="1.0"/>
<line x1="41.22" y1="361.75" x2="29.70" y2="368.40" stroke-width="1.0"/>
<line x1="38.46" y1="360.69" x2="30.16" y2="365.48" stroke-width="1.0"/>
<line x1="29.70" y1="368.40" x2="18.18" y2="361.75" stroke-width="1.0"/>
<line x1="18.18" y1="361.75" x2="18.18" y2="348.45" stroke-width="1.0"/>
<line x1="20.48" y1="359.89" x2="20.48" y2="350.31" stroke-width="1.0"/>
<line x1="18.18" y1="348.45" x2="29.70" y2="341.80" stroke-width="1.0"/>
<line x1="29.70" y1="368.40" x2="29.70" y2="379.80" stroke-width="1.0"/>
<line x1="29.70" y1="341.80" x2="29.70" y2="334.50" stroke-width="1.0"/>
<line x1="243.75" y1="341.25" x2="196.25" y2="341.25" stroke-width="0.85"/>
<polygon points="196.25,341.25 202.25,339.65 200.75,341.25 202.25,342.85" fill="#111" stroke="none"/>
<line x1="252.80" y1="438.20" x2="264.06" y2="444.70" stroke-width="1.0"/>
<line x1="253.23" y1="441.10" x2="261.33" y2="445.78" stroke-width="1.0"/>
<line x1="264.06" y1="444.70" x2="264.06" y2="457.70" stroke-width="1.0"/>
<line x1="264.06" y1="457.70" x2="252.80" y2="464.20" stroke-width="1.0"/>
<line x1="261.33" y1="456.62" x2="253.23" y2="461.30" stroke-width="1.0"/>
<line x1="252.80" y1="464.20" x2="241.54" y2="457.70" stroke-width="1.0"/>
<line x1="241.54" y1="457.70" x2="241.54" y2="444.70" stroke-width="1.0"/>
<line x1="243.84" y1="455.88" x2="243.84" y2="446.52" stroke-width="1.0"/>
<line x1="241.54" y1="444.70" x2="252.80" y2="438.20" stroke-width="1.0"/>
<line x1="241.54" y1="457.70" x2="233.50" y2="463.00" stroke-width="1.0"/>
<line x1="264.06" y1="444.70" x2="274.10" y2="438.60" stroke-width="1.0"/>
<line x1="274.10" y1="438.60" x2="274.10" y2="425.00" stroke-width="1.0"/>
<line x1="274.10" y1="425.00" x2="267.00" y2="421.00" stroke-width="1.0"/>
<line x1="274.69" y1="426.05" x2="283.09" y2="421.35" stroke-width="1.0"/>
<line x1="273.51" y1="423.95" x2="281.91" y2="419.25" stroke-width="1.0"/>
<line x1="274.10" y1="438.60" x2="284.10" y2="444.10" stroke-width="1.0"/>
<line x1="282.90" y1="444.15" x2="283.40" y2="455.55" stroke-width="1.0"/>
<line x1="285.30" y1="444.05" x2="285.80" y2="455.45" stroke-width="1.0"/>
<line x1="284.10" y1="444.10" x2="296.80" y2="437.70" stroke-width="1.0"/>
<line x1="296.80" y1="437.70" x2="309.50" y2="443.20" stroke-width="1.0"/>
<line x1="309.50" y1="443.20" x2="323.20" y2="443.20" stroke-width="1.0"/>
<line x1="323.20" y1="443.20" x2="323.20" y2="458.60" stroke-width="1.0"/>
<line x1="323.20" y1="458.60" x2="309.50" y2="458.60" stroke-width="1.0"/>
<line x1="309.50" y1="458.60" x2="309.50" y2="443.20" stroke-width="1.0"/>
<line x1="308.72" y1="457.69" x2="300.72" y2="464.59" stroke-width="1.0"/>
<line x1="310.28" y1="459.51" x2="302.28" y2="466.41" stroke-width="1.0"/>
<line x1="309.15" y1="442.19" x2="310.05" y2="442.28" stroke-width="0.6" style="stroke:#444"/>
<line x1="309.05" y1="440.23" x2="310.55" y2="440.39" stroke-width="0.6" style="stroke:#444"/>
<line x1="308.96" y1="438.28" x2="311.04" y2="438.50" stroke-width="0.6" style="stroke:#444"/>
<line x1="308.86" y1="436.32" x2="311.54" y2="436.60" stroke-width="0.6" style="stroke:#444"/>
<line x1="314.00" y1="430.00" x2="320.50" y2="425.00" stroke-width="1.0"/>
<polygon points="323.20,443.20 330.97,442.22 330.03,439.38" fill="#111" stroke="none"/>
<line x1="334.30" y1="438.60" x2="345.70" y2="444.30" stroke-width="1.0"/>
<line x1="345.70" y1="444.30" x2="345.70" y2="458.60" stroke-width="1.0"/>
<line x1="345.70" y1="458.60" x2="334.30" y2="465.00" stroke-width="1.0"/>
<line x1="334.30" y1="465.00" x2="323.20" y2="458.60" stroke-width="1.0"/>
<line x1="334.30" y1="465.00" x2="334.30" y2="473.00" stroke-width="1.0"/>
<line x1="345.70" y1="458.60" x2="357.90" y2="465.00" stroke-width="1.0"/>
<line x1="357.90" y1="465.00" x2="368.60" y2="458.60" stroke-width="1.0"/>
<line x1="368.60" y1="458.60" x2="381.40" y2="465.00" stroke-width="1.0"/>
<line x1="381.40" y1="465.00" x2="392.90" y2="459.30" stroke-width="1.0"/>
<line x1="392.90" y1="459.30" x2="401.40" y2="469.30" stroke-width="1.0"/>
<line x1="394.30" y1="480.00" x2="381.40" y2="478.60" stroke-width="1.0"/>
<line x1="381.40" y1="465.00" x2="381.40" y2="478.60" stroke-width="0.9"/>
<line x1="384.00" y1="466.63" x2="384.00" y2="476.97" stroke-width="0.9"/>
<line x1="401.40" y1="469.30" x2="394.30" y2="480.00" stroke-width="0.9"/>
<line x1="398.34" y1="469.58" x2="393.37" y2="477.07" stroke-width="0.9"/>
<line x1="392.90" y1="459.30" x2="394.30" y2="446.40" stroke-width="1.0"/>
<line x1="126.25" y1="453.75" x2="206.25" y2="453.75" stroke-width="0.85"/>
<polygon points="206.25,453.75 200.25,452.15 201.75,453.75 200.25,455.35" fill="#111" stroke="none"/>
<rect x="49.50" y="29.20" width="7.00" height="8.6" fill="#fff"/>
<text class="a" transform="translate(53.00,36.95) scale(0.95,1)" text-anchor="middle">N</text>
<rect x="26.50" y="39.70" width="7.00" height="8.6" fill="#fff"/>
<text class="a" transform="translate(30.00,47.45) scale(0.95,1)" text-anchor="middle">O</text>
<rect x="61.50" y="12.50" width="7.00" height="8.6" fill="#fff"/>
<text class="a" transform="translate(65.00,20.25) scale(0.95,1)" text-anchor="middle">S</text>
<text class="t" transform="translate(14.70,17.20) scale(0.95,1)">H<tspan dy="1.9" font-size="7.0">2</tspan><tspan dy="-1.9">&#8203;</tspan>N</text>
<text class="t" transform="translate(66.30,54.80) scale(0.95,1)">CO<tspan dy="1.9" font-size="7.0">2</tspan><tspan dy="-1.9">&#8203;</tspan>CHPh<tspan dy="1.9" font-size="7.0">2</tspan><tspan dy="-1.9">&#8203;</tspan></text>
<text class="t" transform="translate(59.00,78.00) scale(0.95,1)" text-anchor="middle">1</text>
<rect x="186.20" y="5.60" width="7.00" height="8.6" fill="#fff"/>
<text class="a" transform="translate(189.70,13.35) scale(0.95,1)" text-anchor="middle">H</text>
<rect x="199.60" y="5.60" width="7.00" height="8.6" fill="#fff"/>
<text class="a" transform="translate(203.10,13.35) scale(0.95,1)" text-anchor="middle">H</text>
<rect x="210.20" y="12.00" width="10.00" height="8.6" fill="#fff"/>
<text class="a" transform="translate(215.20,19.75) scale(0.95,1)" text-anchor="middle">Cl</text>
<rect x="176.30" y="41.00" width="7.00" height="8.6" fill="#fff"/>
<text class="a" transform="translate(179.80,48.75) scale(0.95,1)" text-anchor="middle">O</text>
<rect x="198.90" y="31.10" width="7.00" height="8.6" fill="#fff"/>
<text class="a" transform="translate(202.40,38.85) scale(0.95,1)" text-anchor="middle">N</text>
<text class="t" transform="translate(181.00,19.00) scale(0.95,1)" text-anchor="end">H<tspan dy="1.9" font-size="7.0">2</tspan><tspan dy="-1.9">&#8203;</tspan>N</text>
<text class="t" transform="translate(205.50,62.20) scale(0.95,1)" text-anchor="end">Ph<tspan dy="1.9" font-size="7.0">2</tspan><tspan dy="-1.9">&#8203;</tspan>HCO<tspan dy="1.9" font-size="7.0">2</tspan><tspan dy="-1.9">&#8203;</tspan>C</text>
<text class="t" transform="translate(205.00,83.00) scale(0.95,1)" text-anchor="middle">2</text>
<text class="t" transform="translate(248.50,21.00) scale(0.95,1)">HOCH<tspan dy="1.9" font-size="7.0">2</tspan><tspan dy="-1.9">&#8203;</tspan></text>
<text class="t" transform="translate(263.50,56.50) scale(0.95,1)">ZnCl<tspan dy="1.9" font-size="7.0">2</tspan><tspan dy="-1.9">&#8203;</tspan></text>
<rect x="356.50" y="1.50" width="7.00" height="8.6" fill="#fff"/>
<text class="a" transform="translate(360.00,9.25) scale(0.95,1)" text-anchor="middle">H</text>
<rect x="369.50" y="1.50" width="7.00" height="8.6" fill="#fff"/>
<text class="a" transform="translate(373.00,9.25) scale(0.95,1)" text-anchor="middle">H</text>
<rect x="381.50" y="8.70" width="7.00" height="8.6" fill="#fff"/>
<text class="a" transform="translate(385.00,16.45) scale(0.95,1)" text-anchor="middle">O</text>
<rect x="346.50" y="38.20" width="7.00" height="8.6" fill="#fff"/>
<text class="a" transform="translate(350.00,45.95) scale(0.95,1)" text-anchor="middle">O</text>
<rect x="369.50" y="28.20" width="7.00" height="8.6" fill="#fff"/>
<text class="a" transform="translate(373.00,35.95) scale(0.95,1)" text-anchor="middle">N</text>
<text class="t" transform="translate(351.50,17.00) scale(0.95,1)" text-anchor="end">H<tspan dy="1.9" font-size="7.0">2</tspan><tspan dy="-1.9">&#8203;</tspan>N</text>
<text class="t" transform="translate(377.00,59.50) scale(0.95,1)" text-anchor="end">Ph<tspan dy="1.9" font-size="7.0">2</tspan><tspan dy="-1.9">&#8203;</tspan>HCO<tspan dy="1.9" font-size="7.0">2</tspan><tspan dy="-1.9">&#8203;</tspan>C</text>
<text class="t" transform="translate(371.00,84.00) scale(0.95,1)" text-anchor="middle">3</text>
<text class="t" transform="translate(459.50,12.50) scale(0.95,1)">1. BzCl</text>
<text class="t" transform="translate(436.00,30.00) scale(0.95,1)">2. H<tspan dy="1.9" font-size="7.0">2</tspan><tspan dy="-1.9">&#8203;</tspan>, 5% Pd-CaCO<tspan dy="1.9" font-size="7.0">3</tspan><tspan dy="-1.9">&#8203;</tspan></text>
<text class="t" transform="translate(459.00,62.50) scale(0.95,1)">3. mCPBA</text>
<rect x="560.30" y="31.20" width="7.00" height="8.6" fill="#fff"/>
<text class="a" transform="translate(563.80,38.95) scale(0.95,1)" text-anchor="middle">O</text>
<rect x="572.50" y="3.00" width="7.00" height="8.6" fill="#fff"/>
<text class="a" transform="translate(576.00,10.75) scale(0.95,1)" text-anchor="middle">H</text>
<rect x="574.50" y="40.20" width="7.00" height="8.6" fill="#fff"/>
<text class="a" transform="translate(578.00,47.95) scale(0.95,1)" text-anchor="middle">O</text>
<rect x="608.50" y="12.00" width="7.00" height="8.6" fill="#fff"/>
<text class="a" transform="translate(612.00,19.75) scale(0.95,1)" text-anchor="middle">O</text>
<rect x="637.50" y="0.20" width="7.00" height="8.6" fill="#fff"/>
<text class="a" transform="translate(641.00,7.95) scale(0.95,1)" text-anchor="middle">O</text>
<rect x="597.50" y="31.70" width="7.00" height="8.6" fill="#fff"/>
<text class="a" transform="translate(601.00,39.45) scale(0.95,1)" text-anchor="middle">N</text>
<rect x="572.50" y="11.50" width="7.00" height="8.6" fill="#fff"/>
<text class="a" transform="translate(576.00,19.25) scale(0.95,1)" text-anchor="middle">N</text>
<text class="t" transform="translate(545.00,19.20) scale(0.95,1)">Bn</text>
<text class="t" transform="translate(603.00,63.50) scale(0.95,1)" text-anchor="end">Ph<tspan dy="1.9" font-size="7.0">2</tspan><tspan dy="-1.9">&#8203;</tspan>HCO<tspan dy="1.9" font-size="7.0">2</tspan><tspan dy="-1.9">&#8203;</tspan>C</text>
<text class="t" transform="translate(594.00,88.00) scale(0.95,1)" text-anchor="middle">4</text>
<text class="t" transform="translate(0.00,118.60) scale(0.95,1)">Bn</text>
<rect x="16.50" y="131.50" width="7.00" height="8.6" fill="#fff"/>
<text class="a" transform="translate(20.00,139.25) scale(0.95,1)" text-anchor="middle">O</text>
<rect x="28.50" y="102.30" width="7.00" height="8.6" fill="#fff"/>
<text class="a" transform="translate(32.00,110.05) scale(0.95,1)" text-anchor="middle">H</text>
<rect x="28.50" y="110.50" width="7.00" height="8.6" fill="#fff"/>
<text class="a" transform="translate(32.00,118.25) scale(0.95,1)" text-anchor="middle">N</text>
<rect x="30.20" y="140.50" width="7.00" height="8.6" fill="#fff"/>
<text class="a" transform="translate(33.70,148.25) scale(0.95,1)" text-anchor="middle">O</text>
<rect x="65.50" y="111.10" width="7.00" height="8.6" fill="#fff"/>
<text class="a" transform="translate(69.00,118.85) scale(0.95,1)" text-anchor="middle">O</text>
<rect x="53.00" y="131.20" width="7.00" height="8.6" fill="#fff"/>
<text class="a" transform="translate(56.50,138.95) scale(0.95,1)" text-anchor="middle">N</text>
<text class="t" transform="translate(65.20,158.00) scale(0.95,1)">CO<tspan dy="1.9" font-size="7.0">2</tspan><tspan dy="-1.9">&#8203;</tspan>CHPh<tspan dy="1.9" font-size="7.0">2</tspan><tspan dy="-1.9">&#8203;</tspan></text>
<rect x="100.70" y="131.80" width="7.00" height="8.6" fill="#fff"/>
<text class="a" transform="translate(104.20,139.55) scale(0.95,1)" text-anchor="middle">S</text>
<rect x="123.10" y="132.20" width="7.00" height="8.6" fill="#fff"/>
<text class="a" transform="translate(126.60,139.95) scale(0.95,1)" text-anchor="middle">N</text>
<rect x="132.30" y="141.70" width="7.00" height="8.6" fill="#fff"/>
<text class="a" transform="translate(135.80,149.45) scale(0.95,1)" text-anchor="middle">N</text>
<rect x="125.60" y="153.10" width="7.00" height="8.6" fill="#fff"/>
<text class="a" transform="translate(129.10,160.85) scale(0.95,1)" text-anchor="middle">N</text>
<rect x="112.60" y="151.40" width="7.00" height="8.6" fill="#fff"/>
<text class="a" transform="translate(116.10,159.15) scale(0.95,1)" text-anchor="middle">N</text>
<text class="t" transform="translate(86.00,182.00) scale(0.95,1)" text-anchor="middle">7</text>
<text class="t" transform="translate(158.75,122.00) scale(0.95,1)">1. PPh<tspan dy="1.9" font-size="7.0">3</tspan><tspan dy="-1.9">&#8203;</tspan></text>
<text class="t" transform="translate(160.00,145.00) scale(0.95,1)">2. Base</text>
<text class="t" transform="translate(213.75,119.50) scale(0.95,1)">Bn</text>
<rect x="229.00" y="131.70" width="7.00" height="8.6" fill="#fff"/>
<text class="a" transform="translate(232.50,139.45) scale(0.95,1)" text-anchor="middle">O</text>
<rect x="240.40" y="102.70" width="7.00" height="8.6" fill="#fff"/>
<text class="a" transform="translate(243.90,110.45) scale(0.95,1)" text-anchor="middle">H</text>
<rect x="242.75" y="140.70" width="7.00" height="8.6" fill="#fff"/>
<text class="a" transform="translate(246.25,148.45) scale(0.95,1)" text-anchor="middle">O</text>
<rect x="266.50" y="131.95" width="7.00" height="8.6" fill="#fff"/>
<text class="a" transform="translate(270.00,139.70) scale(0.95,1)" text-anchor="middle">N</text>
<rect x="240.90" y="111.30" width="7.00" height="8.6" fill="#fff"/>
<text class="a" transform="translate(244.40,119.05) scale(0.95,1)" text-anchor="middle">N</text>
<rect x="301.50" y="98.20" width="7.00" height="8.6" fill="#fff"/>
<text class="a" transform="translate(305.00,105.95) scale(0.95,1)" text-anchor="middle">O</text>
<rect x="324.00" y="111.95" width="7.00" height="8.6" fill="#fff"/>
<text class="a" transform="translate(327.50,119.70) scale(0.95,1)" text-anchor="middle">S</text>
<rect x="278.00" y="111.20" width="7.00" height="8.6" fill="#fff"/>
<text class="a" transform="translate(281.50,118.95) scale(0.95,1)" text-anchor="middle">O</text>
<rect x="347.75" y="112.70" width="7.00" height="8.6" fill="#fff"/>
<text class="a" transform="translate(351.25,120.45) scale(0.95,1)" text-anchor="middle">N</text>
<rect x="356.50" y="124.45" width="7.00" height="8.6" fill="#fff"/>
<text class="a" transform="translate(360.00,132.20) scale(0.95,1)" text-anchor="middle">N</text>
<rect x="349.00" y="134.45" width="7.00" height="8.6" fill="#fff"/>
<text class="a" transform="translate(352.50,142.20) scale(0.95,1)" text-anchor="middle">N</text>
<rect x="336.50" y="131.95" width="7.00" height="8.6" fill="#fff"/>
<text class="a" transform="translate(340.00,139.70) scale(0.95,1)" text-anchor="middle">N</text>
<rect x="285.50" y="144.20" width="10.00" height="8.6" fill="#fff"/>
<text class="a" transform="translate(290.50,151.95) scale(0.95,1)" text-anchor="middle">Cl</text>
<text class="t" transform="translate(273.00,164.00) scale(0.95,1)" text-anchor="end">Ph<tspan dy="1.9" font-size="7.0">2</tspan><tspan dy="-1.9">&#8203;</tspan>HCO<tspan dy="1.9" font-size="7.0">2</tspan><tspan dy="-1.9">&#8203;</tspan>C</text>
<text class="t" transform="translate(293.75,179.00) scale(0.95,1)" text-anchor="middle">6</text>
<text class="t" transform="translate(391.25,117.60) scale(0.95,1)">1. Jones</text>
<text class="t" transform="translate(398.75,144.20) scale(0.95,1)">2. O<tspan dy="1.9" font-size="7.0">3</tspan><tspan dy="-1.9">&#8203;</tspan></text>
<text class="t" transform="translate(385.00,160.00) scale(0.95,1)">3. Zn-HOAc</text>
<text class="t" transform="translate(385.00,175.00) scale(0.95,1)">4. SOCl<tspan dy="1.9" font-size="7.0">2</tspan><tspan dy="-1.9">&#8203;</tspan>, Py</text>
<text class="t" transform="translate(461.80,121.60) scale(0.95,1)">Bn</text>
<rect x="477.30" y="134.60" width="7.00" height="8.6" fill="#fff"/>
<text class="a" transform="translate(480.80,142.35) scale(0.95,1)" text-anchor="middle">O</text>
<rect x="489.00" y="106.20" width="7.00" height="8.6" fill="#fff"/>
<text class="a" transform="translate(492.50,113.95) scale(0.95,1)" text-anchor="middle">H</text>
<rect x="491.10" y="144.00" width="7.00" height="8.6" fill="#fff"/>
<text class="a" transform="translate(494.60,151.75) scale(0.95,1)" text-anchor="middle">O</text>
<rect x="514.50" y="135.10" width="7.00" height="8.6" fill="#fff"/>
<text class="a" transform="translate(518.00,142.85) scale(0.95,1)" text-anchor="middle">N</text>
<rect x="490.30" y="114.90" width="7.00" height="8.6" fill="#fff"/>
<text class="a" transform="translate(493.80,122.65) scale(0.95,1)" text-anchor="middle">N</text>
<rect x="526.10" y="115.70" width="7.00" height="8.6" fill="#fff"/>
<text class="a" transform="translate(529.60,123.45) scale(0.95,1)" text-anchor="middle">O</text>
<rect x="572.75" y="116.20" width="7.00" height="8.6" fill="#fff"/>
<text class="a" transform="translate(576.25,123.95) scale(0.95,1)" text-anchor="middle">S</text>
<text class="t" transform="translate(550.00,110.30) scale(0.95,1)">OH</text>
<rect x="596.50" y="116.95" width="7.00" height="8.6" fill="#fff"/>
<text class="a" transform="translate(600.00,124.70) scale(0.95,1)" text-anchor="middle">N</text>
<rect x="605.25" y="125.70" width="7.00" height="8.6" fill="#fff"/>
<text class="a" transform="translate(608.75,133.45) scale(0.95,1)" text-anchor="middle">N</text>
<rect x="597.75" y="138.20" width="7.00" height="8.6" fill="#fff"/>
<text class="a" transform="translate(601.25,145.95) scale(0.95,1)" text-anchor="middle">N</text>
<rect x="585.25" y="135.70" width="7.00" height="8.6" fill="#fff"/>
<text class="a" transform="translate(588.75,143.45) scale(0.95,1)" text-anchor="middle">N</text>
<text class="t" transform="translate(520.50,167.00) scale(0.95,1)" text-anchor="end">Ph<tspan dy="1.9" font-size="7.0">2</tspan><tspan dy="-1.9">&#8203;</tspan>HCO<tspan dy="1.9" font-size="7.0">2</tspan><tspan dy="-1.9">&#8203;</tspan>C</text>
<text class="t" transform="translate(566.25,182.00) scale(0.95,1)" text-anchor="middle">5</text>
<text class="t" transform="translate(643.80,120.00) scale(0.95,1)">LiS</text>
<rect x="666.50" y="112.00" width="7.00" height="8.6" fill="#fff"/>
<text class="a" transform="translate(670.00,119.75) scale(0.95,1)" text-anchor="middle">N</text>
<rect x="672.50" y="121.70" width="7.00" height="8.6" fill="#fff"/>
<text class="a" transform="translate(676.00,129.45) scale(0.95,1)" text-anchor="middle">N</text>
<rect x="667.50" y="129.10" width="7.00" height="8.6" fill="#fff"/>
<text class="a" transform="translate(671.00,136.85) scale(0.95,1)" text-anchor="middle">N</text>
<rect x="658.50" y="127.10" width="7.00" height="8.6" fill="#fff"/>
<text class="a" transform="translate(662.00,134.85) scale(0.95,1)" text-anchor="middle">N</text>
<text class="t" transform="translate(95.00,215.50) scale(0.95,1)">H<tspan dy="1.9" font-size="7.0">2</tspan><tspan dy="-1.9">&#8203;</tspan>N</text>
<rect x="106.70" y="236.80" width="7.00" height="8.6" fill="#fff"/>
<text class="a" transform="translate(110.20,244.55) scale(0.95,1)" text-anchor="middle">O</text>
<rect x="142.00" y="207.40" width="7.00" height="8.6" fill="#fff"/>
<text class="a" transform="translate(145.50,215.15) scale(0.95,1)" text-anchor="middle">O</text>
<rect x="129.50" y="227.50" width="7.00" height="8.6" fill="#fff"/>
<text class="a" transform="translate(133.00,235.25) scale(0.95,1)" text-anchor="middle">N</text>
<text class="t" transform="translate(141.70,254.30) scale(0.95,1)">CO<tspan dy="1.9" font-size="7.0">2</tspan><tspan dy="-1.9">&#8203;</tspan>CHPh<tspan dy="1.9" font-size="7.0">2</tspan><tspan dy="-1.9">&#8203;</tspan></text>
<rect x="177.20" y="228.10" width="7.00" height="8.6" fill="#fff"/>
<text class="a" transform="translate(180.70,235.85) scale(0.95,1)" text-anchor="middle">S</text>
<rect x="199.60" y="228.50" width="7.00" height="8.6" fill="#fff"/>
<text class="a" transform="translate(203.10,236.25) scale(0.95,1)" text-anchor="middle">N</text>
<rect x="208.80" y="238.00" width="7.00" height="8.6" fill="#fff"/>
<text class="a" transform="translate(212.30,245.75) scale(0.95,1)" text-anchor="middle">N</text>
<rect x="202.10" y="249.40" width="7.00" height="8.6" fill="#fff"/>
<text class="a" transform="translate(205.60,257.15) scale(0.95,1)" text-anchor="middle">N</text>
<rect x="189.10" y="247.70" width="7.00" height="8.6" fill="#fff"/>
<text class="a" transform="translate(192.60,255.45) scale(0.95,1)" text-anchor="middle">N</text>
<text class="t" transform="translate(133.75,265.50) scale(0.95,1)" text-anchor="middle">8</text>
<text class="t" transform="translate(30.00,219.00) scale(0.95,1)">1. PCl<tspan dy="1.9" font-size="7.0">5</tspan><tspan dy="-1.9">&#8203;</tspan></text>
<text class="t" transform="translate(28.75,246.80) scale(0.95,1)">2. HOCH<tspan dy="1.9" font-size="7.0">3</tspan><tspan dy="-1.9">&#8203;</tspan></text>
<text class="t" transform="translate(30.00,262.00) scale(0.95,1)">3. H<tspan dy="1.9" font-size="7.0">3</tspan><tspan dy="-1.9">&#8203;</tspan>O<tspan dy="-3.8" font-size="7.0">+</tspan><tspan dy="3.8">&#8203;</tspan></text>
<text class="t" transform="translate(261.40,206.00) scale(0.95,1)"><tspan font-style="italic">t</tspan>-Bu</text>
<text class="t" transform="translate(242.60,215.00) scale(0.95,1)">HO</text>
<text class="t" transform="translate(238.40,234.00) scale(0.95,1)"><tspan font-style="italic">t</tspan>-Bu</text>
<text class="t" transform="translate(282.10,234.00) scale(0.95,1)">CHO</text>
<rect x="392.40" y="259.90" width="7.00" height="8.6" fill="#fff"/>
<text class="a" transform="translate(395.90,267.65) scale(0.95,1)" text-anchor="middle">O</text>
<rect x="427.70" y="230.50" width="7.00" height="8.6" fill="#fff"/>
<text class="a" transform="translate(431.20,238.25) scale(0.95,1)" text-anchor="middle">O</text>
<rect x="415.20" y="250.60" width="7.00" height="8.6" fill="#fff"/>
<text class="a" transform="translate(418.70,258.35) scale(0.95,1)" text-anchor="middle">N</text>
<text class="t" transform="translate(427.40,277.40) scale(0.95,1)">CO<tspan dy="1.9" font-size="7.0">2</tspan><tspan dy="-1.9">&#8203;</tspan>CHPh<tspan dy="1.9" font-size="7.0">2</tspan><tspan dy="-1.9">&#8203;</tspan></text>
<rect x="462.90" y="251.20" width="7.00" height="8.6" fill="#fff"/>
<text class="a" transform="translate(466.40,258.95) scale(0.95,1)" text-anchor="middle">S</text>
<rect x="485.30" y="251.60" width="7.00" height="8.6" fill="#fff"/>
<text class="a" transform="translate(488.80,259.35) scale(0.95,1)" text-anchor="middle">N</text>
<rect x="494.50" y="261.10" width="7.00" height="8.6" fill="#fff"/>
<text class="a" transform="translate(498.00,268.85) scale(0.95,1)" text-anchor="middle">N</text>
<rect x="487.80" y="272.50" width="7.00" height="8.6" fill="#fff"/>
<text class="a" transform="translate(491.30,280.25) scale(0.95,1)" text-anchor="middle">N</text>
<rect x="474.80" y="270.80" width="7.00" height="8.6" fill="#fff"/>
<text class="a" transform="translate(478.30,278.55) scale(0.95,1)" text-anchor="middle">N</text>
<text class="t" transform="translate(351.70,205.40) scale(0.95,1)"><tspan font-style="italic">t</tspan>-Bu</text>
<text class="t" transform="translate(326.27,219.00) scale(0.95,1)">HO</text>
<text class="t" transform="translate(322.77,245.20) scale(0.95,1)"><tspan font-style="italic">t</tspan>-Bu</text>
<rect x="390.20" y="230.60" width="7.00" height="8.6" fill="#fff"/>
<text class="a" transform="translate(393.70,238.35) scale(0.95,1)" text-anchor="middle">N</text>
<text class="t" transform="translate(408.00,289.00) scale(0.95,1)" text-anchor="middle">9</text>
<text class="t" x="519.3" y="218.8" text-anchor="middle">O</text>
<text class="t" x="530.5" y="224.8" text-anchor="middle" font-size="9.2">Ni</text>
<text class="t" x="542.1" y="231.4" text-anchor="middle">O</text>
<text class="t" x="553.5" y="224.8" text-anchor="middle" font-size="9.2">Ni</text>
<text class="t" x="565" y="218.8" text-anchor="middle">O</text>
<rect x="598.70" y="216.00" width="7.00" height="8.6" fill="#fff"/>
<text class="a" transform="translate(602.20,223.75) scale(0.95,1)" text-anchor="middle">O</text>
<text class="t" transform="translate(615.30,211.00) scale(0.95,1)"><tspan font-style="italic">t</tspan>-Bu</text>
<text class="t" transform="translate(587.00,250.30) scale(0.95,1)"><tspan font-style="italic">t</tspan>-Bu</text>
<rect x="655.30" y="235.20" width="7.00" height="8.6" fill="#fff"/>
<text class="a" transform="translate(658.80,242.95) scale(0.95,1)" text-anchor="middle">N</text>
<rect x="658.30" y="264.50" width="7.00" height="8.6" fill="#fff"/>
<text class="a" transform="translate(661.80,272.25) scale(0.95,1)" text-anchor="middle">O</text>
<rect x="680.50" y="255.70" width="7.00" height="8.6" fill="#fff"/>
<text class="a" transform="translate(684.00,263.45) scale(0.95,1)" text-anchor="middle">N</text>
<text class="t" transform="translate(675.00,292.50) scale(0.95,1)" text-anchor="middle">10</text>
<rect x="540.50" y="362.50" width="7.00" height="8.6" fill="#fff"/>
<text class="a" transform="translate(544.00,370.25) scale(0.95,1)" text-anchor="middle">O</text>
<rect x="575.80" y="333.10" width="7.00" height="8.6" fill="#fff"/>
<text class="a" transform="translate(579.30,340.85) scale(0.95,1)" text-anchor="middle">O</text>
<rect x="563.30" y="353.20" width="7.00" height="8.6" fill="#fff"/>
<text class="a" transform="translate(566.80,360.95) scale(0.95,1)" text-anchor="middle">N</text>
<text class="t" transform="translate(575.50,380.00) scale(0.95,1)">CO<tspan dy="1.9" font-size="7.0">2</tspan><tspan dy="-1.9">&#8203;</tspan>CHPh<tspan dy="1.9" font-size="7.0">2</tspan><tspan dy="-1.9">&#8203;</tspan></text>
<rect x="611.00" y="353.80" width="7.00" height="8.6" fill="#fff"/>
<text class="a" transform="translate(614.50,361.55) scale(0.95,1)" text-anchor="middle">S</text>
<rect x="633.40" y="354.20" width="7.00" height="8.6" fill="#fff"/>
<text class="a" transform="translate(636.90,361.95) scale(0.95,1)" text-anchor="middle">N</text>
<rect x="642.60" y="363.70" width="7.00" height="8.6" fill="#fff"/>
<text class="a" transform="translate(646.10,371.45) scale(0.95,1)" text-anchor="middle">N</text>
<rect x="635.90" y="375.10" width="7.00" height="8.6" fill="#fff"/>
<text class="a" transform="translate(639.40,382.85) scale(0.95,1)" text-anchor="middle">N</text>
<rect x="622.90" y="373.40" width="7.00" height="8.6" fill="#fff"/>
<text class="a" transform="translate(626.40,381.15) scale(0.95,1)" text-anchor="middle">N</text>
<text class="t" transform="translate(499.80,308.00) scale(0.95,1)"><tspan font-style="italic">t</tspan>-Bu</text>
<text class="t" transform="translate(474.37,321.60) scale(0.95,1)">HO</text>
<text class="t" transform="translate(470.87,347.80) scale(0.95,1)"><tspan font-style="italic">t</tspan>-Bu</text>
<rect x="538.30" y="333.20" width="7.00" height="8.6" fill="#fff"/>
<text class="a" transform="translate(541.80,340.95) scale(0.95,1)" text-anchor="middle">N</text>
<rect x="550.80" y="325.20" width="7.00" height="8.6" fill="#fff"/>
<text class="a" transform="translate(554.30,332.95) scale(0.95,1)" text-anchor="middle">O</text>
<text class="t" transform="translate(519.70,384.00) scale(0.95,1)" text-anchor="middle">11</text>
<text class="t" transform="translate(657.80,318.00) scale(0.95,1)" font-size="8.9">HOCH<tspan dy="1.9" font-size="7.0">3</tspan><tspan dy="-1.9">&#8203;</tspan></text>
<rect x="266.30" y="355.90" width="7.00" height="8.6" fill="#fff"/>
<text class="a" transform="translate(269.80,363.65) scale(0.95,1)" text-anchor="middle">O</text>
<rect x="301.60" y="326.50" width="7.00" height="8.6" fill="#fff"/>
<text class="a" transform="translate(305.10,334.25) scale(0.95,1)" text-anchor="middle">O</text>
<rect x="289.10" y="346.60" width="7.00" height="8.6" fill="#fff"/>
<text class="a" transform="translate(292.60,354.35) scale(0.95,1)" text-anchor="middle">N</text>
<text class="t" transform="translate(301.30,373.40) scale(0.95,1)">CO<tspan dy="1.9" font-size="7.0">2</tspan><tspan dy="-1.9">&#8203;</tspan>CHPh<tspan dy="1.9" font-size="7.0">2</tspan><tspan dy="-1.9">&#8203;</tspan></text>
<rect x="335.30" y="345.90" width="7.00" height="8.6" fill="#fff"/>
<text class="a" transform="translate(338.80,353.65) scale(0.95,1)" text-anchor="middle">S</text>
<rect x="346.10" y="323.80" width="7.00" height="8.6" fill="#fff"/>
<text class="a" transform="translate(349.60,331.55) scale(0.95,1)" text-anchor="middle">N</text>
<rect x="342.10" y="311.10" width="7.00" height="8.6" fill="#fff"/>
<text class="a" transform="translate(345.60,318.85) scale(0.95,1)" text-anchor="middle">N</text>
<rect x="328.30" y="311.10" width="7.00" height="8.6" fill="#fff"/>
<text class="a" transform="translate(331.80,318.85) scale(0.95,1)" text-anchor="middle">N</text>
<rect x="325.60" y="323.80" width="7.00" height="8.6" fill="#fff"/>
<text class="a" transform="translate(329.10,331.55) scale(0.95,1)" text-anchor="middle">N</text>
<text class="t" transform="translate(254.50,333.60) scale(0.95,1)">H<tspan dy="1.9" font-size="7.0">2</tspan><tspan dy="-1.9">&#8203;</tspan>N</text>
<rect x="275.60" y="318.40" width="7.00" height="8.6" fill="#fff"/>
<text class="a" transform="translate(279.10,326.15) scale(0.95,1)" text-anchor="middle">O</text>
<rect x="289.20" y="319.00" width="7.00" height="8.6" fill="#fff"/>
<text class="a" transform="translate(292.70,326.75) scale(0.95,1)" text-anchor="middle">H</text>
<text class="t" transform="translate(282.75,387.00) scale(0.95,1)" text-anchor="middle">12</text>
<rect x="407.30" y="312.20" width="7.00" height="8.6" fill="#fff"/>
<text class="a" transform="translate(410.80,319.95) scale(0.95,1)" text-anchor="middle">O</text>
<rect x="391.50" y="321.30" width="7.00" height="8.6" fill="#fff"/>
<text class="a" transform="translate(395.00,329.05) scale(0.95,1)" text-anchor="middle">N</text>
<text x="397.6" y="324.2" font-size="6.4">+</text>
<text class="t" transform="translate(416.30,334.40) scale(0.95,1)">NHNH<tspan dy="1.9" font-size="7.0">2</tspan><tspan dy="-1.9">&#8203;</tspan></text>
<text class="t" transform="translate(440.00,322.00) scale(0.95,1)">Cl<tspan dy="-3.8" font-size="7.0">-</tspan><tspan dy="3.8">&#8203;</tspan></text>
<rect x="108.90" y="388.40" width="7.00" height="8.6" fill="#fff"/>
<text class="a" transform="translate(112.40,396.15) scale(0.95,1)" text-anchor="middle">O</text>
<rect x="144.20" y="359.00" width="7.00" height="8.6" fill="#fff"/>
<text class="a" transform="translate(147.70,366.75) scale(0.95,1)" text-anchor="middle">O</text>
<rect x="131.70" y="379.10" width="7.00" height="8.6" fill="#fff"/>
<text class="a" transform="translate(135.20,386.85) scale(0.95,1)" text-anchor="middle">N</text>
<text class="t" transform="translate(143.90,405.90) scale(0.95,1)">CO<tspan dy="1.9" font-size="7.0">2</tspan><tspan dy="-1.9">&#8203;</tspan>CHPh<tspan dy="1.9" font-size="7.0">2</tspan><tspan dy="-1.9">&#8203;</tspan></text>
<rect x="177.90" y="378.40" width="7.00" height="8.6" fill="#fff"/>
<text class="a" transform="translate(181.40,386.15) scale(0.95,1)" text-anchor="middle">S</text>
<rect x="188.70" y="356.30" width="7.00" height="8.6" fill="#fff"/>
<text class="a" transform="translate(192.20,364.05) scale(0.95,1)" text-anchor="middle">N</text>
<rect x="184.70" y="343.60" width="7.00" height="8.6" fill="#fff"/>
<text class="a" transform="translate(188.20,351.35) scale(0.95,1)" text-anchor="middle">N</text>
<rect x="170.90" y="343.60" width="7.00" height="8.6" fill="#fff"/>
<text class="a" transform="translate(174.40,351.35) scale(0.95,1)" text-anchor="middle">N</text>
<rect x="168.20" y="356.30" width="7.00" height="8.6" fill="#fff"/>
<text class="a" transform="translate(171.70,364.05) scale(0.95,1)" text-anchor="middle">N</text>
<rect x="118.20" y="350.90" width="7.00" height="8.6" fill="#fff"/>
<text class="a" transform="translate(121.70,358.65) scale(0.95,1)" text-anchor="middle">O</text>
<rect x="132.70" y="351.40" width="7.00" height="8.6" fill="#fff"/>
<text class="a" transform="translate(136.20,359.15) scale(0.95,1)" text-anchor="middle">H</text>
<rect x="106.80" y="358.20" width="7.00" height="8.6" fill="#fff"/>
<text class="a" transform="translate(110.30,365.95) scale(0.95,1)" text-anchor="middle">N</text>
<rect x="106.80" y="366.50" width="7.00" height="8.6" fill="#fff"/>
<text class="a" transform="translate(110.30,374.25) scale(0.95,1)" text-anchor="middle">H</text>
<rect x="95.50" y="377.50" width="7.00" height="8.6" fill="#fff"/>
<text class="a" transform="translate(99.00,385.25) scale(0.95,1)" text-anchor="middle">O</text>
<rect x="95.50" y="338.00" width="7.00" height="8.6" fill="#fff"/>
<text class="a" transform="translate(99.00,345.75) scale(0.95,1)" text-anchor="middle">O</text>
<rect x="72.40" y="337.90" width="7.00" height="8.6" fill="#fff"/>
<text class="a" transform="translate(75.90,345.65) scale(0.95,1)" text-anchor="middle">O</text>
<text class="t" transform="translate(72.70,292.70) scale(0.95,1)">OMe</text>
<rect x="38.00" y="384.40" width="7.00" height="8.6" fill="#fff"/>
<text class="a" transform="translate(41.50,392.15) scale(0.95,1)" text-anchor="middle">O</text>
<text class="t" transform="translate(27.00,333.00) scale(0.95,1)">OMe</text>
<text class="t" transform="translate(62.90,411.00) scale(0.95,1)" text-anchor="middle">13</text>
<text class="t" transform="translate(218.60,468.60) scale(0.95,1)">HO</text>
<text class="t" transform="translate(253.20,422.30) scale(0.95,1)">HO</text>
<rect x="281.50" y="414.30" width="7.00" height="8.6" fill="#fff"/>
<text class="a" transform="translate(285.00,422.05) scale(0.95,1)" text-anchor="middle">O</text>
<rect x="281.50" y="454.30" width="7.00" height="8.6" fill="#fff"/>
<text class="a" transform="translate(285.00,462.05) scale(0.95,1)" text-anchor="middle">O</text>
<rect x="293.30" y="433.40" width="7.00" height="8.6" fill="#fff"/>
<text class="a" transform="translate(296.80,441.15) scale(0.95,1)" text-anchor="middle">N</text>
<rect x="293.30" y="425.00" width="7.00" height="8.6" fill="#fff"/>
<text class="a" transform="translate(296.80,432.75) scale(0.95,1)" text-anchor="middle">H</text>
<rect x="296.00" y="463.40" width="7.00" height="8.6" fill="#fff"/>
<text class="a" transform="translate(299.50,471.15) scale(0.95,1)" text-anchor="middle">O</text>
<rect x="307.00" y="428.00" width="7.00" height="8.6" fill="#fff"/>
<text class="a" transform="translate(310.50,435.75) scale(0.95,1)" text-anchor="middle">O</text>
<rect x="330.80" y="434.30" width="7.00" height="8.6" fill="#fff"/>
<text class="a" transform="translate(334.30,442.05) scale(0.95,1)" text-anchor="middle">O</text>
<rect x="319.70" y="454.30" width="7.00" height="8.6" fill="#fff"/>
<text class="a" transform="translate(323.20,462.05) scale(0.95,1)" text-anchor="middle">N</text>
<text class="t" transform="translate(330.70,482.00) scale(0.95,1)">CO<tspan dy="1.9" font-size="7.0">2</tspan><tspan dy="-1.9">&#8203;</tspan>H</text>
<rect x="365.10" y="454.30" width="7.00" height="8.6" fill="#fff"/>
<text class="a" transform="translate(368.60,462.05) scale(0.95,1)" text-anchor="middle">S</text>
<rect x="389.40" y="455.00" width="7.00" height="8.6" fill="#fff"/>
<text class="a" transform="translate(392.90,462.75) scale(0.95,1)" text-anchor="middle">N</text>
<rect x="397.90" y="465.00" width="7.00" height="8.6" fill="#fff"/>
<text class="a" transform="translate(401.40,472.75) scale(0.95,1)" text-anchor="middle">N</text>
<rect x="390.80" y="475.70" width="7.00" height="8.6" fill="#fff"/>
<text class="a" transform="translate(394.30,483.45) scale(0.95,1)" text-anchor="middle">N</text>
<rect x="377.90" y="474.30" width="7.00" height="8.6" fill="#fff"/>
<text class="a" transform="translate(381.40,482.05) scale(0.95,1)" text-anchor="middle">N</text>
<text class="t" transform="translate(305.00,492.00) scale(0.95,1)" text-anchor="middle">14</text>
</g>
</svg></body></html>
